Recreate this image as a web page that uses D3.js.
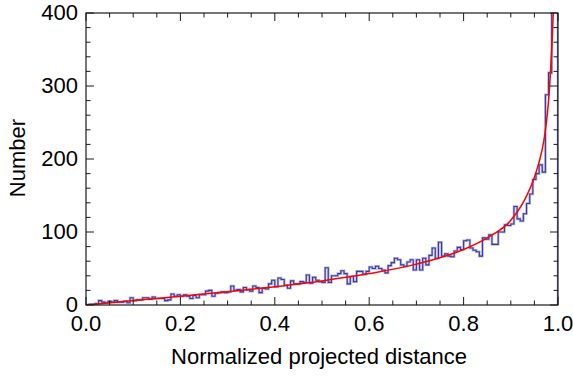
<!DOCTYPE html>
<html lang="en">
<head>
<meta charset="utf-8">
<title>Normalized projected distance histogram</title>
<script src="https://d3js.org/d3.v7.min.js"></script>
<style>
  body { margin: 0; background: #fff; }
  text { font-family: "Liberation Sans", Arial, sans-serif; fill: #000; }
  .frame { fill: none; stroke: #1a1a1a; stroke-width: 1.2; }
  .tick { stroke: #1a1a1a; stroke-width: 1; }
  .histHalo { fill: none; stroke: #b4b4e4; stroke-width: 2.6; }
  .hist { fill: none; stroke: #3c3c96; stroke-width: 1.1; }
  .fit { fill: none; stroke: #ff0000; stroke-width: 1.5; }
</style>
</head>
<body>
<script>
// histogram counts, 150 equal bins from 0 to 1
var counts = [
  0, 1, 1, 2, 6, 4, 3, 5, 4, 6,
  4, 4, 5, 3, 10, 6, 7, 7, 10, 10,
  8, 11, 9, 9, 9, 6, 7, 15, 12, 14,
  12, 14, 12, 9, 13, 10, 14, 14, 19, 20,
  12, 16, 17, 18, 17, 18, 26, 20, 21, 18,
  24, 21, 19, 26, 24, 17, 23, 22, 29, 34,
  25, 37, 35, 27, 23, 33, 29, 29, 32, 31,
  41, 30, 38, 34, 32, 31, 51, 31, 40, 40,
  43, 47, 43, 29, 39, 32, 46, 46, 42, 46,
  52, 50, 53, 50, 48, 44, 54, 58, 64, 62,
  55, 53, 59, 62, 48, 62, 48, 64, 55, 68,
  78, 64, 86, 67, 70, 67, 66, 74, 79, 76,
  88, 89, 78, 75, 73, 67, 92, 90, 96, 83,
  83, 100, 100, 110, 109, 111, 135, 118, 115, 125,
  139, 152, 172, 180, 192, 182, 288, 318, 420, 600
];

// red fitted curve
var fitX = [0, 0.05, 0.1, 0.2, 0.3, 0.4, 0.5, 0.6, 0.7, 0.8, 0.85, 0.9, 0.93, 0.95, 0.96, 0.97, 0.975, 0.98, 0.985, 0.99, 0.993];
var fitY = [0, 3, 6, 12, 18, 25, 33, 43, 56, 76, 92, 116, 145, 175, 196, 225, 248, 280, 330, 400, 460];

var xMajor = [0, 0.2, 0.4, 0.6, 0.8, 1.0];
var yMajor = [0, 100, 200, 300, 400];

var margin = {top: 13, right: 15, bottom: 71, left: 86},
    W = 573, H = 376,
    width = W - margin.left - margin.right,
    height = H - margin.top - margin.bottom;

var x = d3.scaleLinear().domain([0, 1]).range([0, width]);
var y = d3.scaleLinear().domain([0, 400]).range([height, 0]);

var svg = d3.select("body").append("svg")
    .attr("width", W)
    .attr("height", H);

svg.append("defs").append("clipPath").attr("id", "plotClip")
  .append("rect").attr("width", width).attr("height", height);

var g = svg.append("g")
    .attr("transform", "translate(" + margin.left + "," + margin.top + ")");

var plot = g.append("g").attr("clip-path", "url(#plotClip)");

// histogram outline as a step line
var binW = 1 / counts.length;
var pts = [[0, 0]];
counts.forEach(function(c, i) { pts.push([i * binW, c]); });
pts.push([1, counts[counts.length - 1]]);
pts.push([1, 0]);

var step = d3.line()
    .x(function(d) { return x(d[0]); })
    .y(function(d) { return y(d[1]); })
    .curve(d3.curveStepAfter);

plot.append("path").datum(pts).attr("class", "histHalo").attr("d", step);
plot.append("path").datum(pts).attr("class", "hist").attr("d", step);

// fitted curve
var fitPts = fitX.map(function(v, i) { return [v, fitY[i]]; });
plot.append("path")
    .datum(fitPts)
    .attr("class", "fit")
    .attr("d", d3.line()
        .x(function(d) { return x(d[0]); })
        .y(function(d) { return y(d[1]); })
        .curve(d3.curveMonotoneX));

// frame with inward ticks on all four sides
g.append("rect").attr("class", "frame")
    .attr("width", width).attr("height", height);

var xMinor = d3.range(0, 1.0001, 0.05);
var yMinor = d3.range(0, 400.01, 20);
var isMajX = function(v) { return xMajor.some(function(m) { return Math.abs(m - v) < 1e-6; }); };
var isMajY = function(v) { return yMajor.some(function(m) { return Math.abs(m - v) < 1e-6; }); };

xMinor.forEach(function(v) {
  var len = isMajX(v) ? 8 : 4.5;
  g.append("line").attr("class", "tick")
      .attr("x1", x(v)).attr("x2", x(v)).attr("y1", height).attr("y2", height - len);
  g.append("line").attr("class", "tick")
      .attr("x1", x(v)).attr("x2", x(v)).attr("y1", 0).attr("y2", len);
});
yMinor.forEach(function(v) {
  var len = isMajY(v) ? 8 : 4.5;
  g.append("line").attr("class", "tick")
      .attr("x1", 0).attr("x2", len).attr("y1", y(v)).attr("y2", y(v));
  g.append("line").attr("class", "tick")
      .attr("x1", width).attr("x2", width - len).attr("y1", y(v)).attr("y2", y(v));
});

// tick labels
g.selectAll(".xlab").data(xMajor).enter().append("text")
    .attr("x", function(d) { return x(d); })
    .attr("y", height + 26)
    .attr("text-anchor", "middle")
    .style("font-size", "22px")
    .text(function(d) { return d3.format(".1f")(d); });

g.selectAll(".ylab").data(yMajor).enter().append("text")
    .attr("x", -8)
    .attr("y", function(d) { return y(d); })
    .attr("dy", "0.33em")
    .attr("text-anchor", "end")
    .style("font-size", "22px")
    .text(function(d) { return d; });

// axis titles
svg.append("text")
    .attr("x", margin.left + width / 2 - 3)
    .attr("y", 364)
    .attr("text-anchor", "middle")
    .style("font-size", "22px")
    .text("Normalized projected distance");

svg.append("text")
    .attr("transform", "translate(25,158) rotate(-90)")
    .attr("text-anchor", "middle")
    .style("font-size", "22px")
    .text("Number");
</script>
</body>
</html>
